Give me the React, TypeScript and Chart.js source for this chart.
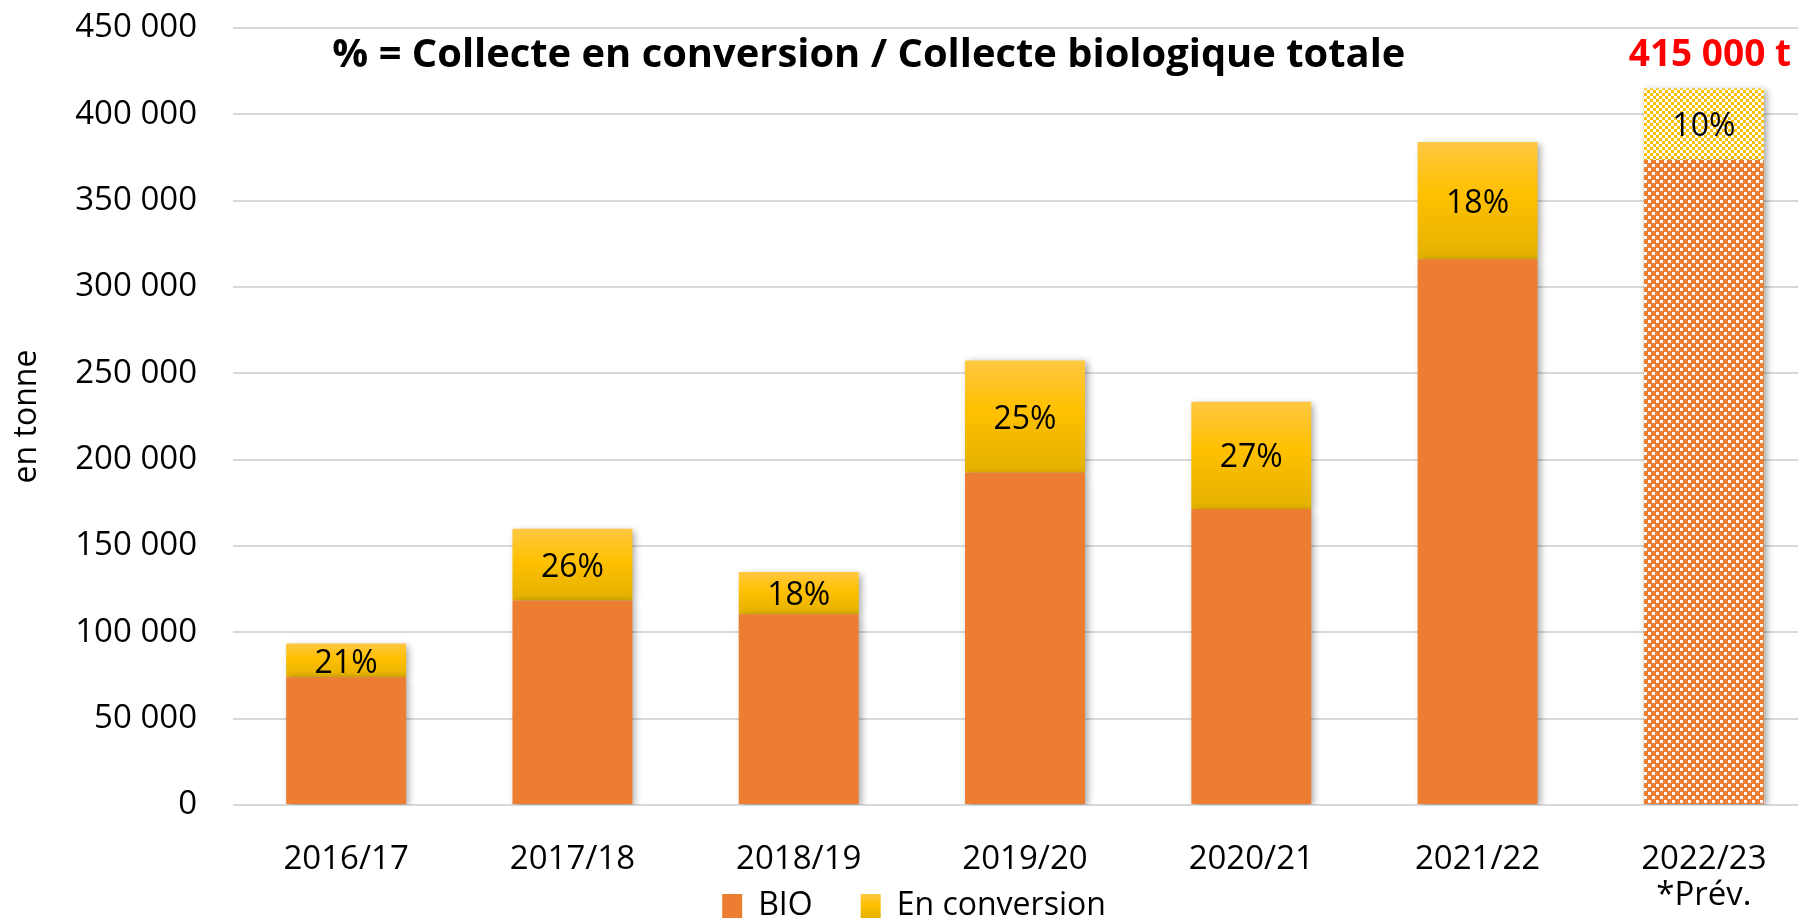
import { useEffect, useRef } from 'react';
import { Chart, registerables } from 'chart.js';

Chart.register(...registerables);
Chart.defaults.font.family = "'Open Sans', sans-serif";

const categories: (string | string[])[] = ['2016/17', '2017/18', '2018/19', '2019/20', '2020/21', '2021/22', ['2022/23', '*Prév.']];
const bioValues = [74000, 118500, 110500, 192500, 171500, 316000, 373500];
const conversionValues = [19500, 41500, 24500, 65000, 62000, 68000, 41500];
const pctLabels = ['21%', '26%', '18%', '25%', '27%', '18%', '10%'];
const totalLabels = ['', '', '', '', '', '', '415 000 t'];
const forecast = [false, false, false, false, false, false, true];
const seriesNames = ['BIO', 'En conversion'];
const titleText = '% = Collecte en conversion / Collecte biologique totale';
const yAxisTitle = 'en tonne';

const ORANGE = '#ED7D31';
const YELLOW = '#FFC000';

function makePattern(color: string, tile: number, white: number): CanvasPattern | string {
  const c = document.createElement('canvas');
  c.width = tile;
  c.height = tile;
  const g = c.getContext('2d');
  if (!g) return color;
  const h = tile / 2;
  g.fillStyle = color;
  g.fillRect(0, 0, tile, tile);
  g.fillStyle = '#ffffff';
  g.fillRect(0, 0, white, white);
  g.fillRect(h, h, white, white);
  const p = g.createPattern(c, 'repeat');
  return p || color;
}

function convGradient(ctx: CanvasRenderingContext2D, top: number, bottom: number) {
  const g = ctx.createLinearGradient(0, top, 0, bottom);
  g.addColorStop(0, '#FFC842');
  g.addColorStop(0.45, '#FFC000');
  g.addColorStop(1, '#E3B100');
  return g;
}

function fmt(v: number): string {
  return String(v).replace(/\B(?=(\d{3})+(?!\d))/g, ' ');
}

export default function App() {
  const ref = useRef<HTMLCanvasElement | null>(null);

  useEffect(() => {
    const canvas = ref.current;
    if (!canvas) return;
    const orangePattern = makePattern(ORANGE, 8, 3);
    const yellowPattern = makePattern(YELLOW, 6, 3);

    const decor = {
      id: 'decor',
      beforeDatasetsDraw(chart: any) {
        const c = chart.ctx;
        c.save();
        c.shadowColor = 'rgba(0,0,0,0.35)';
        c.shadowBlur = 7;
        c.shadowOffsetX = 3;
        c.shadowOffsetY = 2;
      },
      afterDatasetsDraw(chart: any) {
        const c = chart.ctx;
        c.restore();
        c.save();
        const meta = chart.getDatasetMeta(1);
        c.textAlign = 'center';
        c.textBaseline = 'middle';
        c.fillStyle = '#000000';
        c.font = "32px 'Open Sans', sans-serif";
        meta.data.forEach((bar: any, i: number) => {
          const p = bar.getProps(['x', 'y', 'base'], true);
          c.fillText(pctLabels[i], p.x, (p.y + p.base) / 2 + 3);
        });
        c.fillStyle = '#FF0000';
        c.font = "bold 37px 'Open Sans', sans-serif";
        meta.data.forEach((bar: any, i: number) => {
          if (!totalLabels[i]) return;
          const p = bar.getProps(['x', 'y'], true);
          c.fillText(totalLabels[i], p.x + 6, p.y - 33);
        });
        const xs = chart.scales.x;
        const ys = chart.scales.y;
        c.fillStyle = '#000000';
        c.font = "bold 40px 'Open Sans', sans-serif";
        c.fillText(titleText, xs.getPixelForValue(2.31), ys.getPixelForValue(434000), 1073);
        c.restore();
      },
    };

    const conversionColor = (ctx: any) => {
      if (ctx.type !== 'data') return YELLOW;
      const i = ctx.dataIndex;
      if (forecast[i]) return yellowPattern;
      const chart = ctx.chart;
      const y = chart.scales && chart.scales.y;
      if (!y || !chart.chartArea) return YELLOW;
      const top = y.getPixelForValue(bioValues[i] + conversionValues[i]);
      const bottom = y.getPixelForValue(bioValues[i]);
      if (!isFinite(top) || !isFinite(bottom) || top === bottom) return YELLOW;
      return convGradient(chart.ctx, top, bottom);
    };

    const bioColor = (ctx: any) => {
      if (ctx.type !== 'data') return ORANGE;
      return forecast[ctx.dataIndex] ? orangePattern : ORANGE;
    };

    const chart = new Chart(canvas, {
      type: 'bar',
      data: {
        labels: categories as any,
        datasets: [
          {
            label: seriesNames[0],
            data: bioValues,
            backgroundColor: bioColor as any,
            borderWidth: 0,
            categoryPercentage: 1,
            barPercentage: 0.53,
          },
          {
            label: seriesNames[1],
            data: conversionValues,
            backgroundColor: conversionColor as any,
            borderWidth: 0,
            categoryPercentage: 1,
            barPercentage: 0.53,
          },
        ],
      },
      options: {
        responsive: false,
        animation: false,
        devicePixelRatio: 1,
        layout: { padding: { top: 28, left: 11, right: 0, bottom: 0 } },
        plugins: {
          tooltip: { enabled: false },
          legend: {
            position: 'bottom',
            align: 'center',
            labels: {
              boxWidth: 20,
              boxHeight: 24,
              padding: 48,
              color: '#000000',
              font: { size: 32 },
              generateLabels: (chart: any) => {
                const items = Chart.defaults.plugins.legend.labels.generateLabels(chart);
                items.forEach((it: any) => {
                  if (it.datasetIndex === 0) {
                    it.fillStyle = ORANGE;
                  } else {
                    const top = chart.height - 38;
                    it.fillStyle = convGradient(chart.ctx, top, top + 24);
                  }
                  it.lineWidth = 0;
                  it.strokeStyle = 'rgba(0,0,0,0)';
                });
                return items;
              },
            },
          },
        },
        scales: {
          x: {
            stacked: true,
            grid: { display: false, drawTicks: false },
            border: { display: false },
            ticks: {
              color: '#000000',
              font: { size: 33, lineHeight: 1.1 },
              padding: 36,
              maxRotation: 0,
              autoSkip: false,
            },
            afterFit: (scale: any) => {
              scale.height = 37;
              scale.paddingLeft = 0;
              scale.paddingRight = 0;
              scale._computeLabelArea = () => undefined;
            },
          },
          y: {
            stacked: true,
            min: 0,
            max: 450000,
            grid: { color: '#D9D9D9', lineWidth: 2, drawTicks: false },
            border: { display: false },
            ticks: {
              stepSize: 50000,
              color: '#000000',
              font: { size: 33 },
              padding: 36,
              callback: (v: any) => fmt(Number(v)),
            },
            title: {
              display: true,
              text: yAxisTitle,
              color: '#000000',
              font: { size: 32, lineHeight: 1 },
              padding: { top: 0, bottom: 0 },
            },
            afterFit: (scale: any) => {
              scale.width = 222;
              scale.paddingTop = 0;
              scale.paddingBottom = 0;
            },
          },
        },
      },
      plugins: [decor],
    } as any);

    return () => {
      chart.destroy();
    };
  }, []);

  return (
    <div
      style={{
        position: 'absolute',
        left: 0,
        top: 0,
        width: 1798,
        height: 922,
        overflow: 'hidden',
        background: '#ffffff',
      }}
    >
      <canvas
        ref={ref}
        width={1817}
        height={932}
        style={{ position: 'absolute', left: 0, top: 0, width: 1817, height: 932 }}
      />
    </div>
  );
}
